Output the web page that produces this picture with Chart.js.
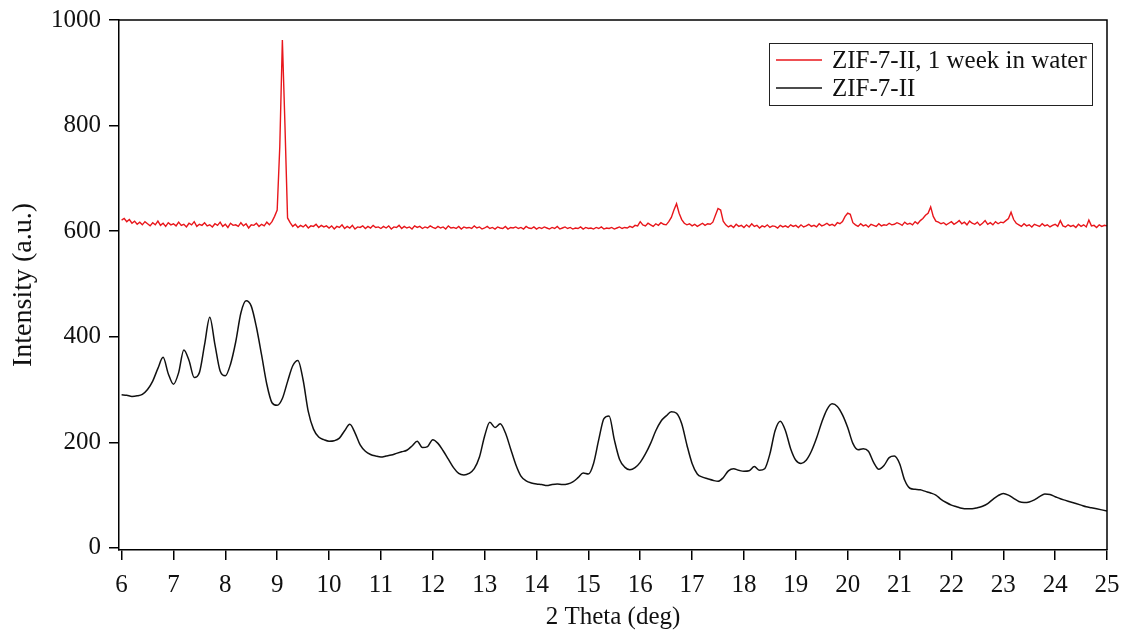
<!DOCTYPE html>
<html>
<head>
<meta charset="utf-8">
<script src="https://cdn.jsdelivr.net/npm/chart.js@4/dist/chart.umd.min.js"></script>
<style>
  html,body{margin:0;padding:0;background:#fff;}
  #wrap{width:1122px;height:630px;position:relative;}
</style>
</head>
<body>
<div id="wrap"><canvas id="xrd"></canvas></div>
<script>
// 2θ sampling grids (deg)
const waterStart = 6, waterStep = 0.05;
const pristineStart = 6, pristineStep = 0.1;

// ZIF-7-II after 1 week in water, intensity every 0.05 deg from 6 to 25
const waterIntensity = [
  621,624,618,622,615,619,613,617,612,618,614,610,616,612,619,611,615,609,616,612, // 6
  614,610,617,611,613,608,615,612,618,609,613,611,616,610,612,608,614,611,617,609, // 7
  613,607,615,611,612,609,616,610,614,606,612,611,615,609,613,610,617,612,618,628, // 8
  640,760,962,800,625,616,609,613,607,611,608,612,606,610,609,613,607,611,608,610, // 9
  606,610,604,609,607,612,605,609,606,611,604,608,607,610,605,609,606,611,607,608, // 10
  605,609,606,610,604,608,607,611,605,609,606,608,604,610,607,609,605,608,606,610, // 11
  607,605,609,606,608,604,610,606,607,605,609,604,608,606,607,605,610,606,608,604, // 12
  606,609,605,607,604,608,606,605,609,604,607,606,608,605,607,604,609,606,605,608, // 13
  604,607,605,608,606,604,607,605,609,604,606,608,605,607,604,606,605,608,604,607, // 14
  605,606,604,607,605,608,604,606,605,607,604,606,608,605,607,606,609,607,611,610, // 15
  618,612,610,615,612,609,614,611,616,613,612,618,626,640,652,634,622,615,612,614, // 16
  610,613,609,612,615,611,614,613,617,630,643,640,619,612,608,611,607,613,609,611, // 17
  607,612,608,614,609,611,606,610,608,612,607,610,609,606,611,608,610,607,612,609, // 18
  611,607,612,608,610,613,609,611,608,614,610,612,615,611,613,610,616,614,618,628, // 19
  634,632,616,612,609,614,610,612,608,613,611,609,614,610,612,611,615,612,613,616, // 20
  614,611,617,613,615,612,618,614,620,624,630,634,646,628,619,617,614,616,612,615, // 21
  618,613,616,620,614,617,612,619,615,613,617,611,615,620,613,616,612,618,614,617, // 22
  616,620,624,636,622,615,612,609,614,610,612,608,613,611,609,614,610,612,608,611, // 23
  613,609,620,610,608,612,609,611,607,613,609,612,608,621,610,611,607,612,609,611, // 24
  610
];

// as-made ZIF-7-II, intensity every 0.1 deg from 6 to 25
const pristineIntensity = [
  290,289,287,288,291,300,316,340,361,330, // 6
  310,332,375,355,323,332,385,437,385,335, // 7
  326,348,390,445,468,458,418,365,310,275, // 8
  270,283,315,345,355,318,258,225,210,205, // 9
  202,203,208,222,234,218,195,183,177,174, // 10
  172,174,176,179,182,185,193,202,190,192, // 11
  205,198,184,168,152,141,138,141,150,172, // 12
  212,238,228,235,218,188,158,136,127,123, // 13
  121,120,118,120,121,120,121,125,133,142, // 14
  140,160,205,245,250,205,168,153,148,152, // 15
  162,178,198,222,240,250,258,255,235,195, // 16
  160,140,134,131,128,126,133,146,150,147, // 17
  145,146,154,147,150,178,222,240,222,188, // 18
  166,160,166,183,208,238,262,273,268,252, // 19
  228,198,186,188,183,162,149,156,171,174, // 20
  160,128,113,111,110,107,104,100,92,86,   // 21
  81,78,75,74,74,76,79,84,92,99,           // 22
  103,100,94,88,86,87,91,97,102,101,       // 23
  97,93,90,87,84,81,78,76,74,72,           // 24
  70
];

const xTicks = [6,7,8,9,10,11,12,13,14,15,16,17,18,19,20,21,22,23,24,25];
const yTicks = [0,200,400,600,800,1000];
const seriesLabels = ['ZIF-7-II, 1 week in water', 'ZIF-7-II'];
const seriesColors = ['#e8161b', '#111111'];

const toPoints = (start, step, ys) => ys.map((y, i) => ({x: +(start + i*step).toFixed(3), y}));

const SERIF = '"Liberation Serif", "Times New Roman", serif';

// keep the plot box fixed: labels may hang over the layout padding
const fixBox = size => s => {
  if (s.isHorizontal()) s.height = size; else s.width = size;
  s.paddingLeft = s.paddingRight = s.paddingTop = s.paddingBottom = 0;
};

// outer frame: top and right edges of the plot box
const frame = {
  id: 'frame',
  afterDraw(chart){
    const {ctx, chartArea:a} = chart;
    ctx.save();
    ctx.strokeStyle = '#000'; ctx.lineWidth = 1.5;
    ctx.beginPath();
    ctx.moveTo(a.left, a.top); ctx.lineTo(a.right, a.top); ctx.lineTo(a.right, a.bottom);
    ctx.stroke();
    ctx.restore();
  }
};

// boxed legend in the upper right of the plot
const boxLegend = {
  id: 'boxLegend',
  afterDraw(chart){
    const ctx = chart.ctx;
    const x0 = 769, y0 = 43, w = 323, h = 62;
    ctx.save();
    ctx.fillStyle = '#fff';
    ctx.fillRect(x0, y0, w, h);
    ctx.strokeStyle = '#222'; ctx.lineWidth = 1;
    ctx.strokeRect(x0 + 0.5, y0 + 0.5, w, h);
    ctx.font = '25px ' + SERIF;
    ctx.textBaseline = 'middle';
    chart.data.datasets.forEach((ds, i) => {
      const cy = y0 + 17 + i*28;
      ctx.strokeStyle = ds.borderColor; ctx.lineWidth = 1.5;
      ctx.beginPath(); ctx.moveTo(776, cy); ctx.lineTo(822, cy); ctx.stroke();
      ctx.fillStyle = '#111';
      ctx.fillText(ds.label, 832, cy + 1);
    });
    ctx.restore();
  }
};

new Chart(document.getElementById('xrd'), {
  type: 'line',
  data: {
    datasets: [
      { label: seriesLabels[0], data: toPoints(waterStart, waterStep, waterIntensity),
        borderColor: seriesColors[0], borderWidth: 1.4, pointRadius: 0, tension: 0 },
      { label: seriesLabels[1], data: toPoints(pristineStart, pristineStep, pristineIntensity),
        borderColor: seriesColors[1], borderWidth: 1.5, pointRadius: 0, cubicInterpolationMode: 'monotone' },
    ]
  },
  options: {
    responsive: true, maintainAspectRatio: false, animation: false,
    layout: { padding: { top: 20, right: 15, left: 0, bottom: 0 } },
    plugins: { legend: { display: false }, tooltip: { enabled: false } },
    scales: {
      x: {
        type: 'linear', min: 5.95, max: 25,
        afterBuildTicks: s => { s.ticks = xTicks.map(v => ({value: v})); },
        afterFit: fixBox(80),
        grid: { drawOnChartArea: false, drawTicks: true, tickLength: 10, color: '#000', lineWidth: 1.5 },
        border: { display: true, color: '#000', width: 1.5 },
        ticks: { color: '#111', font: { family: SERIF, size: 25 }, padding: 10, maxRotation: 0, autoSkip: false,
                 callback: v => String(v) },
        title: { display: true, text: '2 Theta (deg)', color: '#111', font: { family: SERIF, size: 25, lineHeight: 1 }, padding: 0 }
      },
      y: {
        type: 'linear', min: -4, max: 1000,
        afterBuildTicks: s => { s.ticks = yTicks.map(v => ({value: v})); },
        afterFit: fixBox(119),
        grid: { drawOnChartArea: false, drawTicks: true, tickLength: 10, color: '#000', lineWidth: 1.5 },
        border: { display: true, color: '#000', width: 1.5 },
        ticks: { color: '#111', font: { family: SERIF, size: 25 }, padding: 8, callback: v => String(v) },
        title: { display: true, text: 'Intensity (a.u.)', color: '#111', font: { family: SERIF, size: 28, lineHeight: 1 }, padding: { top: 10, bottom: 0 } }
      }
    }
  },
  plugins: [frame, boxLegend]
});
</script>
</body>
</html>
